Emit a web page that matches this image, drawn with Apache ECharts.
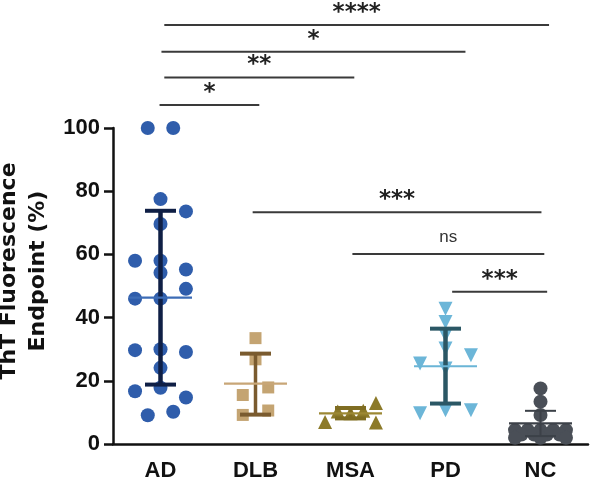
<!DOCTYPE html>
<html><head><meta charset="utf-8">
<script src="https://cdn.jsdelivr.net/npm/echarts@6/dist/echarts.min.js"></script>
<style>html,body{margin:0;padding:0;background:#fff}#c{width:597px;height:484px}</style>
</head><body><div id="c"></div>
<script>
// ---- data ----
const categories = ['AD', 'DLB', 'MSA', 'PD', 'NC'];
const yMin = 0, yMax = 100, yStep = 20;

const adValues  = [100, 100, 77.5, 73.6, 69.6, 58, 58, 54.2, 55.2, 49.1, 46, 46, 29.7, 30, 29.1, 24.1, 16.7, 17.8, 14.7, 9.1, 10.2];
const adSlots   = [-1, 1, 0, 2, 0, -2, 0, 0, 2, 2, -2, 0, -2, 0, 2, 0, -2, 0, 2, -1, 1];
const dlbValues = [33.5, 26.8, 15.5, 17.9, 9.2, 10.6];
const dlbSlots  = [0, 0, -1, 1, -1, 1];
const msaValues = [7.0, 10.3, 9.7, 10.5, 13.0, 6.8];
const msaSlots  = [-2, -1, 0, 1, 2, 2];
const pdValues  = [42.8, 38.6, 34.4, 30.2, 28.1, 25.5, 23.9, 9.7, 10.7, 10.7];
const pdSlots   = [0, 0, 0, 0, 2, -2, 0, -2, 0, 2];
const ncValues  = [17.6, 13.4, 9.2, 4.4, 4.4, 4.4, 4.4, 4.4, 3.0, 3.0, 3.0, 3.0, 2.0, 2.0, 2.0];
const ncSlots   = [0, 0, 0, -2, -1, 0, 1, 2, -1.5, -0.5, 0.5, 1.5, -2, 0, 2];

const groupMeans = [46.3, 19.1, 9.7, 24.6, 6.5];
const groupUpper = [73.8, 28.6, 11.4, 36.5, 10.5];
const groupLower = [18.8, 9.3, 8.1, 12.8, 2.5];

const sigLabels = ['****', '*', '**', '*', '***', 'ns', '***'];
const sigFrom   = [0.04, 0.01, 0.04, -0.01, 0.97, 2.02, 3.07];
const sigTo     = [4.09, 3.21, 2.04, 1.04, 4.01, 4.04, 4.07];
const sigLevel  = [132.6, 124.1, 116.0, 107.3, 73.3, 60.1, 48.2];

// ---- styles ----
const slotWidth = 0.134;
const pointColors = ['#2f5dab', '#c4a472', '#8c7a29', '#6cb6d8', '#4a4f57'];
const barColors   = ['#0f1f45', '#7a5b2f', '#7f6d22', '#2b5765', '#3c4148'];
const meanColors  = ['#3d6cb6', '#c8a677', '#9c8834', '#6ab5d6', '#3c4148'];
const barW  = [4.5, 3.5, 3.5, 4.5, 2];
const capW  = [4, 4, 4, 4, 2];
const symbols = [
  {symbol: 'circle', size: 14, rotate: 0},
  {symbol: 'rect', size: 12, rotate: 0},
  {symbol: 'triangle', size: 14, rotate: 0},
  {symbol: 'triangle', size: 14, rotate: 180},
  {symbol: 'circle', size: 14, rotate: 0}
];

const groups = [[adValues, adSlots], [dlbValues, dlbSlots], [msaValues, msaSlots], [pdValues, pdSlots], [ncValues, ncSlots]];

const scatterSeries = groups.map(([vals, slots], gi) => ({
  type: 'scatter',
  xAxisIndex: 1,
  clip: false,
  z: 2,
  symbol: symbols[gi].symbol,
  symbolSize: symbols[gi].size,
  symbolRotate: symbols[gi].rotate,
  itemStyle: {color: pointColors[gi], opacity: 1},
  data: vals.map((v, i) => [gi + slots[i] * slotWidth, v])
}));

const errorSeries = {
  type: 'custom',
  xAxisIndex: 1,
  clip: false,
  z: 3,
  data: categories.map((c, i) => [i, groupMeans[i], groupUpper[i], groupLower[i]]),
  encode: {x: 0, y: [1, 2, 3]},
  renderItem: function (params, api) {
    const i = api.value(0);
    const pm = api.coord([i, api.value(1)]);
    const pu = api.coord([i, api.value(2)]);
    const pl = api.coord([i, api.value(3)]);
    const halfCap = 15.5, halfMean = 31.5;
    return {
      type: 'group',
      children: [
        {type: 'line', shape: {x1: pu[0], y1: pu[1], x2: pl[0], y2: pl[1]}, style: {stroke: barColors[i], lineWidth: barW[i]}},
        {type: 'line', shape: {x1: pu[0] - halfCap, y1: pu[1], x2: pu[0] + halfCap, y2: pu[1]}, style: {stroke: barColors[i], lineWidth: capW[i]}},
        {type: 'line', shape: {x1: pl[0] - halfCap, y1: pl[1], x2: pl[0] + halfCap, y2: pl[1]}, style: {stroke: barColors[i], lineWidth: capW[i]}},
        {type: 'line', shape: {x1: pm[0] - halfMean, y1: pm[1], x2: pm[0] + halfMean, y2: pm[1]}, style: {stroke: meanColors[i], lineWidth: 2.2}}
      ]
    };
  }
};

const sigSeries = {
  type: 'custom',
  xAxisIndex: 1,
  clip: false,
  z: 4,
  data: sigLabels.map((t, i) => [sigFrom[i], sigTo[i], sigLevel[i], i]),
  encode: {x: [0, 1], y: 2},
  renderItem: function (params, api) {
    const k = api.value(3);
    const a = api.coord([api.value(0), api.value(2)]);
    const b = api.coord([api.value(1), api.value(2)]);
    const isNs = sigLabels[k] === 'ns';
    return {
      type: 'group',
      children: [
        {type: 'line', shape: {x1: a[0], y1: a[1], x2: b[0], y2: b[1]}, style: {stroke: '#3a3a3a', lineWidth: 2}},
        {type: 'text', style: {
          text: sigLabels[k],
          x: (a[0] + b[0]) / 2,
          y: a[1] - (isNs ? 16.5 : 12),
          align: 'center', verticalAlign: 'middle',
          fontFamily: isNs ? 'Liberation Sans' : 'DejaVu Sans',
          fontWeight: isNs ? 'normal' : 'bold',
          fontSize: isNs ? 17 : 23,
          fill: isNs ? '#333' : '#222'
        }}
      ]
    };
  }
};

const chart = echarts.init(document.getElementById('c'), null, {renderer: 'canvas'});
chart.setOption({
  animation: false,
  backgroundColor: '#ffffff',
  grid: {left: 113, right: 9, top: 128, bottom: 40, containLabel: false, outerBoundsMode: 'none'},
  xAxis: [
    {
      type: 'category', data: categories, boundaryGap: true,
      axisLine: {onZero: false, lineStyle: {color: '#111', width: 2.5}},
      axisTick: {alignWithLabel: true, length: 8, lineStyle: {color: '#111', width: 2.5}},
      axisLabel: {margin: 16, color: '#111', fontFamily: 'Liberation Sans, Arial', fontWeight: 'bold', fontSize: 22},
      splitLine: {show: false}
    },
    {type: 'value', min: -0.5, max: 4.5, show: false}
  ],
  yAxis: {
    type: 'value', min: yMin, max: yMax, interval: yStep,
    name: 'ThT Fluorescence\nEndpoint (%)',
    nameLocation: 'middle', nameGap: 55,
    nameTextStyle: {fontFamily: 'DejaVu Sans', fontWeight: 'bold', fontSize: 22, lineHeight: 29, color: '#111', padding: [0, 0, 0, 30]},
    axisLine: {show: true, onZero: false, lineStyle: {color: '#111', width: 2.5}},
    axisTick: {show: true, length: 9, lineStyle: {color: '#111', width: 2.5}},
    axisLabel: {margin: 13, color: '#111', fontFamily: 'Liberation Sans, Arial', fontWeight: 'bold', fontSize: 22},
    splitLine: {show: false}
  },
  series: [...scatterSeries, errorSeries, sigSeries]
});
</script>
</body></html>
